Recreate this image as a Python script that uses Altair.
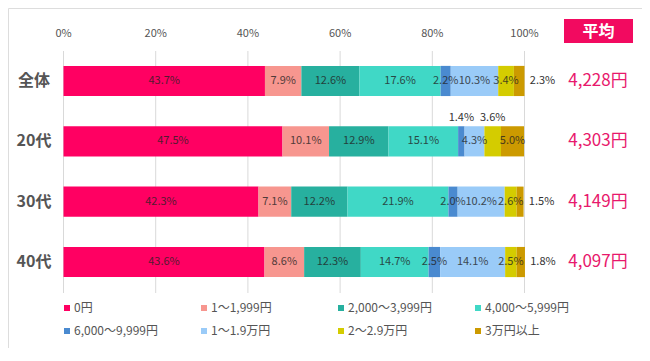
import altair as alt
import pandas as pd

groups = ["全体", "20代", "30代", "40代"]
categories = ["0円", "1～1,999円", "2,000～3,999円", "4,000～5,999円",
              "6,000～9,999円", "1～1.9万円", "2～2.9万円", "3万円以上"]
colors = ["#FF0062", "#F7968F", "#27B09F", "#40D8C6",
          "#4A8AD0", "#9ACBF8", "#D4CC00", "#CC9A00"]

v_all = [43.7, 7.9, 12.6, 17.6, 2.2, 10.3, 3.4, 2.3]
v_20 = [47.5, 10.1, 12.9, 15.1, 1.4, 4.3, 3.6, 5.0]
v_30 = [42.3, 7.1, 12.2, 21.9, 2.0, 10.2, 2.6, 1.5]
v_40 = [43.6, 8.6, 12.3, 14.7, 2.5, 14.1, 2.5, 1.8]
series = [v_all, v_20, v_30, v_40]

# where each value label sits: inside the segment, right of the bar, or above it
pos_all = ["in", "in", "in", "in", "in", "in", "in", "right"]
pos_20 = ["in", "in", "in", "in", "above", "in", "above", "in"]
pos_30 = ["in", "in", "in", "in", "in", "in", "in", "right"]
pos_40 = ["in", "in", "in", "in", "in", "in", "in", "right"]
positions = [pos_all, pos_20, pos_30, pos_40]

averages = ["4,228円", "4,303円", "4,149円", "4,097円"]
ticks = [0, 20, 40, 60, 80, 100]
tick_labels = ["0%", "20%", "40%", "60%", "80%", "100%"]

FONT = "Noto Sans CJK JP"

rows = []
for g, vals, poss in zip(groups, series, positions):
    for i, (c, v, p) in enumerate(zip(categories, vals, poss)):
        rows.append({"group": g, "cat": c, "order": i, "value": v,
                     "label": f"{v:.1f}%", "pos": p})
df = pd.DataFrame(rows)

avg_df = pd.DataFrame({"group": groups, "avg": averages})
tick_df = pd.DataFrame({"t": ticks, "lab": tick_labels})
leg_df = pd.DataFrame({"cat": categories, "i": list(range(len(categories)))})
box_df = pd.DataFrame({"lab": ["平均"]})

xscale = alt.Scale(domain=[0, 100], range=[55.5, 516.5], nice=False, zero=False)
yscale = alt.Scale(domain=groups, range=[42.8, 284.2], paddingInner=0.5, paddingOuter=0.25)
cscale = alt.Scale(domain=categories, range=colors)

base = alt.Chart(df).transform_stack(
    stack="value", groupby=["group"], as_=["x0", "x1"],
    sort=[alt.SortField("order", order="ascending")]
).transform_calculate(mid="(datum.x0 + datum.x1) / 2")

grid = alt.Chart(tick_df).mark_rule(color="#d9d9d9", strokeWidth=1).encode(
    x=alt.X("t:Q", scale=xscale, axis=None),
    y=alt.value(43), y2=alt.value(285)
)

tick_text = alt.Chart(tick_df).mark_text(
    font=FONT, fontSize=11, color="#555555", baseline="middle"
).encode(
    x=alt.X("t:Q", scale=xscale, axis=None),
    y=alt.value(26),
    text="lab:N"
)

bars = base.mark_bar(stroke=None).encode(
    x=alt.X("x0:Q", scale=xscale, axis=None),
    x2="x1:Q",
    y=alt.Y("group:N", scale=yscale, axis=None, sort=groups),
    color=alt.Color("cat:N", scale=cscale, legend=None),
)

in_text = base.transform_filter("datum.pos == 'in'").mark_text(
    font=FONT, fontSize=11, color="#222222", opacity=0.78, baseline="middle"
).encode(
    x=alt.X("mid:Q", scale=xscale, axis=None),
    y=alt.Y("group:N", scale=yscale, axis=None, sort=groups),
    text="label:N"
)

right_text = base.transform_filter("datum.pos == 'right'").mark_text(
    font=FONT, fontSize=11, color="#333333", baseline="middle", align="center", dx=18
).encode(
    x=alt.X("x1:Q", scale=xscale, axis=None),
    y=alt.Y("group:N", scale=yscale, axis=None, sort=groups),
    text="label:N"
)

above_text = base.transform_filter("datum.pos == 'above'").mark_text(
    font=FONT, fontSize=11, color="#333333", baseline="middle", align="center", dy=-23
).encode(
    x=alt.X("mid:Q", scale=xscale, axis=None),
    y=alt.Y("group:N", scale=yscale, axis=None, sort=groups),
    text="label:N"
)

group_text = alt.Chart(avg_df).mark_text(
    font=FONT, fontSize=16, fontWeight="bold", color="#555555", baseline="middle"
).encode(
    x=alt.value(26),
    y=alt.Y("group:N", scale=yscale, axis=None, sort=groups),
    text="group:N"
)

avg_text = alt.Chart(avg_df).mark_text(
    font=FONT, fontSize=17, color="#E8186C", baseline="middle"
).encode(
    x=alt.value(590),
    y=alt.Y("group:N", scale=yscale, axis=None, sort=groups),
    text="avg:N"
)

box = alt.Chart(box_df).mark_rect(color="#F20A60").encode(
    x=alt.value(556), x2=alt.value(625), y=alt.value(11), y2=alt.value(35)
)
box_text = alt.Chart(box_df).mark_text(
    font=FONT, fontSize=16, fontWeight="bold", color="white", baseline="middle"
).encode(x=alt.value(590.5), y=alt.value(23.5), text="lab:N")

leg_base = alt.Chart(leg_df).transform_calculate(
    px="59 + 137 * (datum.i % 4)",
    tx="66 + 137 * (datum.i % 4)",
    py="300 + 23 * floor(datum.i / 4)"
)
leg_sq = leg_base.mark_square(size=36, opacity=1).encode(
    x=alt.X("px:Q", scale=None),
    y=alt.Y("py:Q", scale=None),
    color=alt.Color("cat:N", scale=cscale, legend=None)
)
leg_txt = leg_base.mark_text(
    font=FONT, fontSize=12, color="#555555", align="left", baseline="middle"
).encode(
    x=alt.X("tx:Q", scale=None),
    y=alt.Y("py:Q", scale=None),
    text="cat:N"
)

chart = alt.layer(
    grid, tick_text, bars, in_text, right_text, above_text,
    group_text, avg_text, box, box_text, leg_sq, leg_txt
).properties(
    width=634, height=340, padding=0,
    autosize=alt.AutoSizeParams(type="none")
).configure_view(stroke=None).configure(background="white")

chart.save("out.html", embed_options={"renderer": "svg", "actions": False})
